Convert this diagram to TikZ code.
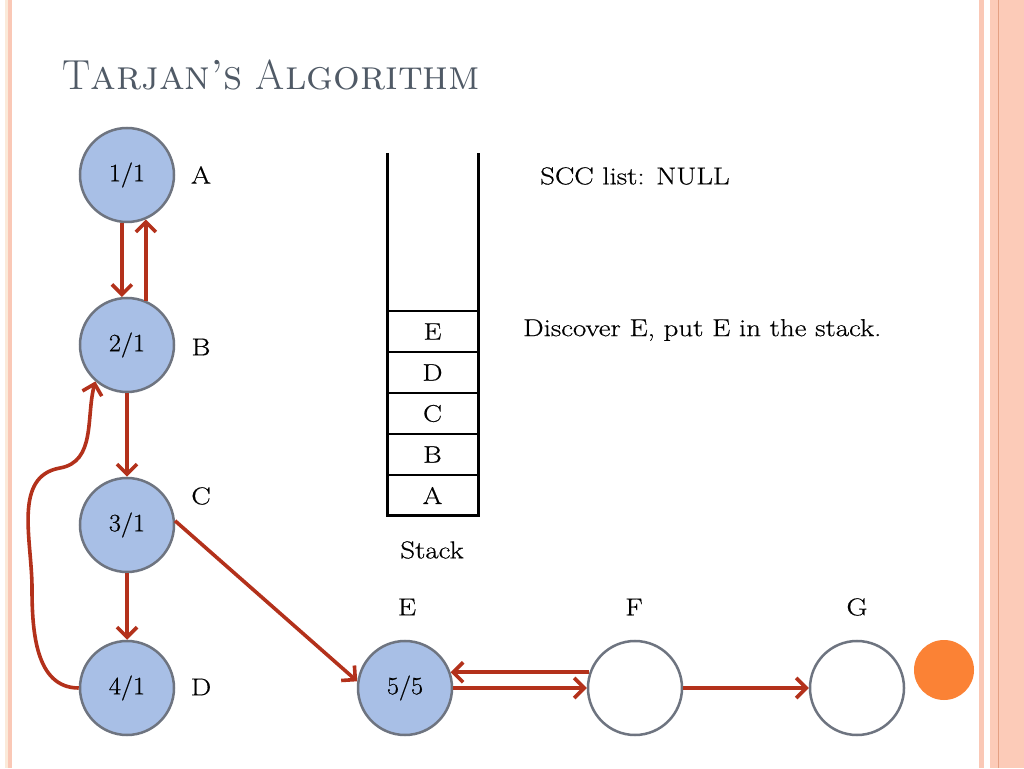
\documentclass[tikz,border=0pt]{standalone}
\usepackage{fontspec}
\newfontfamily\bodyfont{Latin Modern Roman}[FakeStretch=1.18,FakeBold=0.6]
\newfontfamily\numfont{Latin Modern Roman}[FakeStretch=1.05,FakeBold=0.6]
\usetikzlibrary{arrows.meta}
\definecolor{nodefill}{HTML}{A8BFE6}
\definecolor{nodeedge}{HTML}{6E7480}
\definecolor{edgered}{HTML}{B3311B}
\definecolor{titlegray}{HTML}{505A66}
\definecolor{pinkA}{HTML}{FAC8B6}
\definecolor{pinkB}{HTML}{FCCBB8}
\definecolor{pinkLine}{HTML}{E4A083}
\definecolor{cream}{HTML}{FBEAD9}
\definecolor{orangedot}{HTML}{FB8235}
\tikzset{
  vert/.style={circle,draw=nodeedge,line width=2.5pt,minimum size=94pt,inner sep=0pt,font=\numfont\fontsize{25}{28}\selectfont},
  done/.style={vert,fill=nodefill},
  fresh/.style={vert,fill=white},
  lbl/.style={font=\bodyfont\fontsize{24.5}{28}\selectfont},
  arc/.style={draw=edgered,line width=3.6pt,-{Straight Barb[length=10pt,width=20pt,line width=3.6pt]}},
  cell/.style={draw=black,line width=2pt,minimum width=91pt,minimum height=41pt,inner sep=0pt,outer sep=0pt,font=\bodyfont\fontsize{24}{28}\selectfont},
  wall/.style={draw=black,line width=3pt}
}
\begin{document}
\begin{tikzpicture}[x=1pt,y=1pt]
\useasboundingbox (0,0) rectangle (1024,768);
\fill[white] (0,0) rectangle (1024,768);
% side decorations
\fill[cream] (5,0) rectangle (8,768);
\fill[pinkA] (8,0) rectangle (12,768);
\fill[pinkA] (979,0) rectangle (984,768);
\fill[pinkB] (990,0) rectangle (1024,768);
\fill[pinkLine] (997.5,0) rectangle (999,768);
% title
\node[anchor=base west,text=titlegray,font=\fontsize{42}{48}\selectfont,inner sep=0pt] (title) at (62,678) {T\textsc{arjan's} A\textsc{lgorithm}};
% vertices
\node[done] (a) at (127,593) {1/1};
\node[done] (b) at (127,423) {2/1};
\node[done] (c) at (127,243) {3/1};
\node[done] (d) at (127,80) {4/1};
\node[done] (e) at (405,80) {5/5};
\node[fresh] (f) at (635,80) {};
\node[fresh] (g) at (857,80) {};
\fill[orangedot] (944,98) circle (30);
% vertex labels
\node[lbl] (la) at (201,593) {A};
\node[lbl] (lb) at (201,421) {B};
\node[lbl] (lc) at (201,272) {C};
\node[lbl] (ld) at (201,81) {D};
\node[lbl] (le) at (407,161) {E};
\node[lbl] (lf) at (634,161) {F};
\node[lbl] (lg) at (857,161) {G};
% edges
\draw[arc] (a.264) -- (b.96);
\draw[arc] (b.67) -- (a.-67);
\draw[arc] (b.south) -- (c.north);
\draw[arc] (c.south) -- (d.north);
\draw[arc] (c.5) -- (e.172);
\draw[arc] (e.east) -- (f.west);
\draw[arc] (f.161) -- (e.19);
\draw[arc] (f.east) -- (g.west);
\coordinate (bend1) at (32,180);
\coordinate (hook) at (60,300);
\draw[arc] (d.west) to[out=180,in=-90] (bend1) to[out=90,in=190] (hook) to[out=10,in=-105] (b.229);
% stack
\node[cell] (s1) at (432.5,272.5) {A};
\node[cell,anchor=south] (s2) at (s1.north) {B};
\node[cell,anchor=south] (s3) at (s2.north) {C};
\node[cell,anchor=south] (s4) at (s3.north) {D};
\node[cell,anchor=south] (s5) at (s4.north) {E};
\coordinate (topl) at (387,615);
\coordinate (topr) at (478,615);
\draw[wall,line join=miter] (topl) |- (s1.south) -| (topr);
\node[lbl] (stk) at (432,218) {Stack};
% texts
\node[lbl,anchor=west,inner sep=0pt] (scc) at (540,592) {SCC list: NULL};
\node[lbl,anchor=west,inner sep=0pt] (msg) at (523,438) {Discover E, put E in the stack.};
\end{tikzpicture}
\end{document}
